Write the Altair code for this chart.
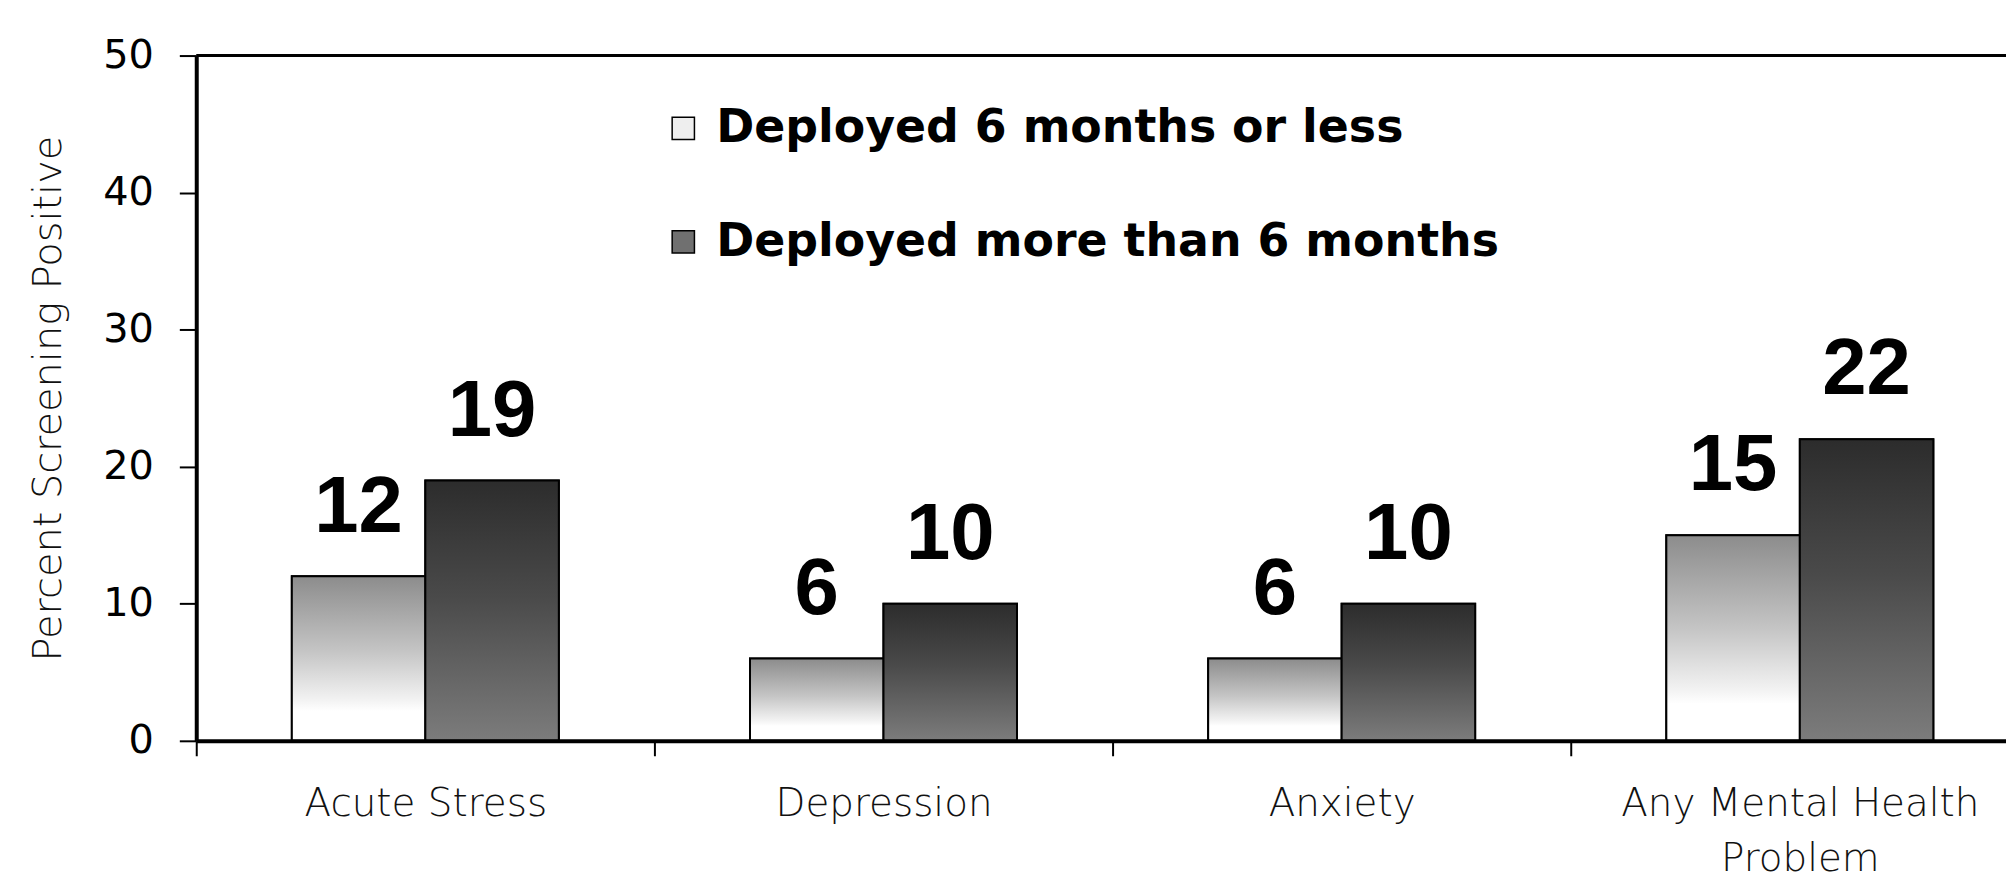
import altair as alt
import pandas as pd

categories = ["Acute Stress", "Depression", "Anxiety", "Any Mental Health Problem"]
series = ["Deployed 6 months or less", "Deployed more than 6 months"]
short_values = [12, 6, 6, 15]
long_values = [19, 10, 10, 22]
y_ticks = [0, 10, 20, 30, 40, 50]

rows = []
for c, a, b in zip(categories, short_values, long_values):
    rows.append({"category": c, "series": series[0], "value": a})
    rows.append({"category": c, "series": series[1], "value": b})
df = pd.DataFrame(rows)

W = 1817
H = 688

x_enc = alt.X(
    "category:N",
    sort=categories,
    scale=alt.Scale(domain=categories, range=[0, 1840], paddingInner=0, paddingOuter=0),
    axis=alt.Axis(
        title=None,
        tickBand="extent",
        labelExpr="datum.value == 'Any Mental Health Problem' ? ['Any Mental Health', 'Problem'] : datum.label",
        labelAngle=0,
        labelFont="DejaVu Sans",
        labelFontSize=39,
        labelFontWeight=200,
        labelColor="#111111",
        labelPadding=29,
        labelLimit=1000,
        labelLineHeight=55,
        domainColor="black",
        domainWidth=4,
        tickColor="black",
        tickWidth=2,
        tickSize=15,
        zindex=1,
    ),
)
xo_enc = alt.XOffset(
    "series:N",
    sort=series,
    scale=alt.Scale(domain=series, paddingInner=0, paddingOuter=0.716),
)
y_enc = alt.Y(
    "value:Q",
    scale=alt.Scale(domain=[0, 50], nice=False),
    axis=alt.Axis(
        values=y_ticks,
        title="Percent Screening Positive",
        titleFont="DejaVu Sans",
        titleFontSize=40,
        titleFontWeight=200,
        titleColor="#111111",
        titlePadding=34,
        labelFont="DejaVu Sans",
        labelFontSize=40,
        labelColor="black",
        labelPadding=26,
        domainColor="black",
        domainWidth=4,
        tickColor="black",
        tickWidth=2,
        tickSize=17,
        grid=False,
        zindex=1,
    ),
)

base = alt.Chart(df)

bars = base.mark_bar(stroke="black", strokeWidth=2).encode(
    x=x_enc,
    xOffset=xo_enc,
    y=y_enc,
    color=alt.Color(
        "series:N",
        sort=series,
        scale=alt.Scale(domain=series, range=["#eeeeee", "#707070"]),
        legend=alt.Legend(
            title=None,
            orient="none",
            legendX=466,
            legendY=50,
            direction="vertical",
            symbolType="square",
            symbolSize=500,
            symbolStrokeColor="black",
            symbolStrokeWidth=1.5,
            labelFont="DejaVu Sans",
            labelFontSize=46,
            labelFontWeight="bold",
            labelColor="black",
            labelOffset=10,
            labelLimit=1000,
            rowPadding=68,
        ),
    ),
)

light_grad = alt.LinearGradient(
    gradient="linear",
    stops=[
        alt.GradientStop(color="#8c8c8c", offset=0),
        alt.GradientStop(color="#c4c4c4", offset=0.45),
        alt.GradientStop(color="#f2f2f2", offset=0.75),
        alt.GradientStop(color="#ffffff", offset=0.82),
        alt.GradientStop(color="#ffffff", offset=1),
    ],
    x1=0, x2=0, y1=0, y2=1,
)
dark_grad = alt.LinearGradient(
    gradient="linear",
    stops=[
        alt.GradientStop(color="#2c2c2c", offset=0),
        alt.GradientStop(color="#4a4a4a", offset=0.45),
        alt.GradientStop(color="#7c7c7c", offset=1),
    ],
    x1=0, x2=0, y1=0, y2=1,
)

light_bars = base.transform_filter(alt.datum.series == series[0]).mark_bar(
    color=light_grad, stroke="black", strokeWidth=2
).encode(x=x_enc, xOffset=xo_enc, y=y_enc)

dark_bars = base.transform_filter(alt.datum.series == series[1]).mark_bar(
    color=dark_grad, stroke="black", strokeWidth=2
).encode(x=x_enc, xOffset=xo_enc, y=y_enc)

labels = base.mark_text(
    font="Liberation Sans",
    fontSize=80,
    fontWeight="bold",
    baseline="alphabetic",
    align="center",
    dy=-45,
    color="black",
).encode(x=x_enc, xOffset=xo_enc, y=y_enc, text="value:Q")

top_rule = alt.Chart(pd.DataFrame({"k": [0]})).mark_rule(color="black", strokeWidth=3).encode(
    x=alt.value(0), x2=alt.value(1840), y=alt.value(0)
)

chart = alt.layer(bars, light_bars, dark_bars, labels, top_rule).properties(
    width=W,
    height=H,
    autosize="none",
    padding={"left": 189, "top": 46, "right": 0, "bottom": 140},
    background="white",
).configure_view(stroke=None)

chart.save("out.html", embed_options={"renderer": "svg", "actions": False})
